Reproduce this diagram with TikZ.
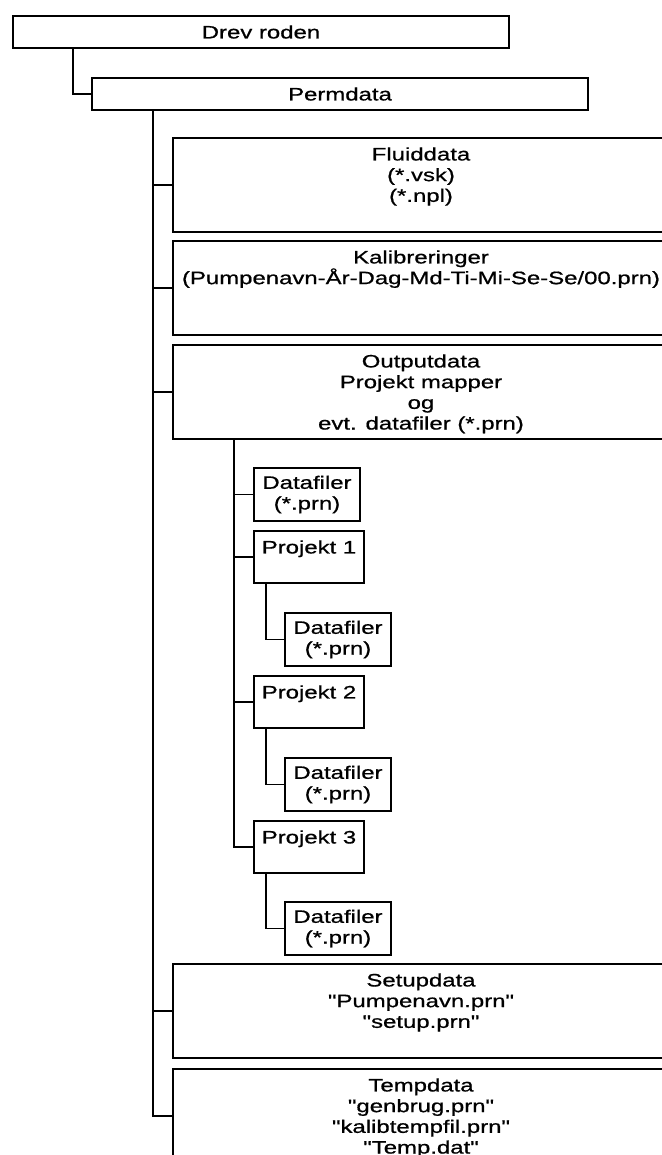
\documentclass[tikz,border=0pt]{standalone}
\usepackage{fontspec}
\setmainfont{Liberation Sans}[FakeStretch=1.33, FakeBold=0.8, Ligatures=TeXOff]

\begin{document}
\begin{tikzpicture}[x=0.5pt, y=-0.5pt,
    every node/.style={font={\fontsize{9}{10.35}\selectfont}},
    box/.style={draw, line width=1pt, anchor=north west, inner sep=0pt},
    rootbox/.style={box, minimum width=248pt, minimum height=16pt},
    bigbox/.style={box, minimum width=248pt, minimum height=47pt},
    projbox/.style={box, minimum width=55pt, minimum height=26pt},
    filebox/.style={box, minimum width=53pt, minimum height=26.5pt, align=center},
    boxtext/.style={anchor=north, align=center, inner sep=0pt, yshift=-5pt},
    link/.style={line width=0.7pt}]
    \useasboundingbox (0,0) rectangle (662,1155);

    % roden og Permdata
    \node[rootbox] (drev) at (12,15) {Drev roden};
    \node[rootbox] (perm) at (91,77) {Permdata};
    \draw[link] ([xshift=30.5pt]drev.south west) |- (perm.west);

    % mapper under Permdata
    \node[bigbox] (fluid) at (172,137) {};
    \node[boxtext] (fluid-txt) at (fluid.north) {Fluiddata\\(*.vsk)\\(*.npl)};
    \node[bigbox] (kalib) at (172,240) {};
    \node[boxtext] (kalib-txt) at (kalib.north) {Kalibreringer\\(Pumpenavn-År-Dag-Md-Ti-Mi-Se-Se/00.prn)};
    \node[bigbox] (output) at (172,344) {};
    \node[boxtext] (output-txt) at (output.north) {Outputdata\\Projekt mapper\\og\\evt. datafiler (*.prn)};
    \node[bigbox] (setup) at (172,963) {};
    \node[boxtext] (setup-txt) at (setup.north) {Setupdata\\"Pumpenavn.prn"\\"setup.prn"};
    \node[bigbox] (temp) at (172,1068) {};
    \node[boxtext] (temp-txt) at (temp.north) {Tempdata\\"genbrug.prn"\\"kalibtempfil.prn"\\"Temp.dat"};

    \coordinate (permtrunk) at ([xshift=31pt]perm.south west);
    \draw[link] (permtrunk) |- (temp.west);
    \foreach \b in {fluid,kalib,output,setup}
        \draw[link] (\b.west) -| (permtrunk);

    % Outputdata
    \node[filebox] (df0) at (253,467) {Datafiler\\(*.prn)};
    \node[projbox] (p1) at (253,530) {};
    \node[boxtext] (p1-txt) at (p1.north) {Projekt 1};
    \node[filebox] (df1) at (284,612) {Datafiler\\(*.prn)};
    \node[projbox] (p2) at (253,675) {};
    \node[boxtext] (p2-txt) at (p2.north) {Projekt 2};
    \node[filebox] (df2) at (284,757) {Datafiler\\(*.prn)};
    \node[projbox] (p3) at (253,820) {};
    \node[boxtext] (p3-txt) at (p3.north) {Projekt 3};
    \node[filebox] (df3) at (284,901) {Datafiler\\(*.prn)};

    \coordinate (outtrunk) at ([xshift=31pt]output.south west);
    \draw[link] (outtrunk) |- (p3.west);
    \foreach \b in {df0,p1,p2}
        \draw[link] (\b.west) -| (outtrunk);
    \foreach \p/\d in {p1/df1,p2/df2,p3/df3}
        \draw[link] ([xshift=6.5pt]\p.south west) |- (\d.west);
\end{tikzpicture}
\end{document}
